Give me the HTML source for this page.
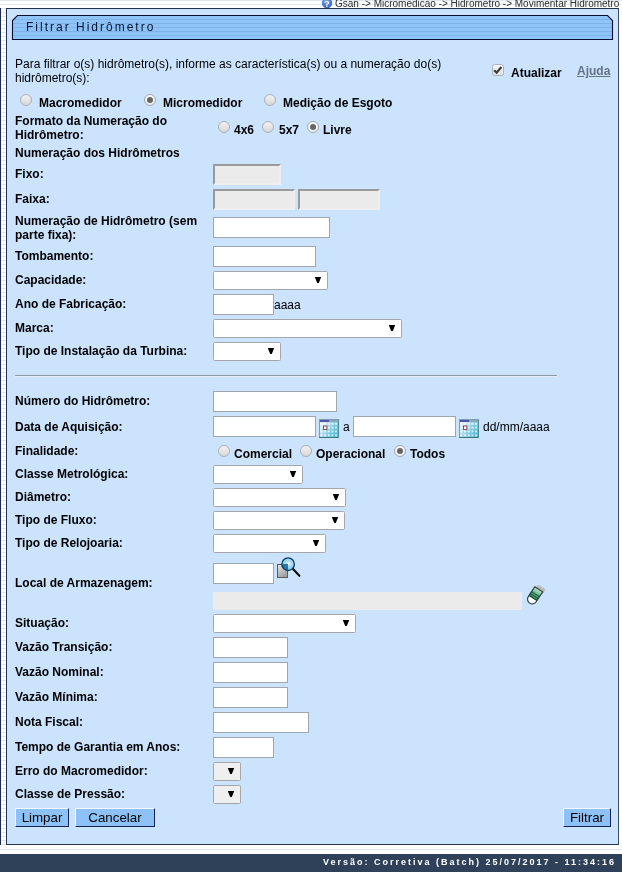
<!DOCTYPE html>
<html><head><meta charset="utf-8"><title>Filtrar Hidrômetro</title>
<style>
html,body{margin:0;padding:0;background:#fff;}
body{width:622px;height:872px;position:relative;overflow:hidden;font-family:"Liberation Sans",sans-serif;font-size:12px;color:#000;}
.a{position:absolute;white-space:nowrap;line-height:14px;}
.b{font-weight:bold;}
.in{position:absolute;box-sizing:border-box;background:#fff;border:1px solid #9fa6ad;}
.dis{position:absolute;box-sizing:border-box;background:#ebebeb;border:2px solid;border-color:#9a9a9a #eeeeee #eeeeee #9a9a9a;}
.sel{position:absolute;box-sizing:border-box;background:#fff;border:1px solid #a3a6aa;border-radius:1.5px;}
.sel:after{content:"";position:absolute;right:5px;top:5px;width:8px;height:6px;background:#000;clip-path:polygon(10% 0,90% 0,60% 100%,40% 100%);}
.rd{position:absolute;box-sizing:border-box;width:12px;height:12px;border-radius:50%;border:1px solid #a9b0b8;background:linear-gradient(180deg,#f2f2f2 0%,#e6e4e4 50%,#d8d8d8 100%);}
.rd.on{background:linear-gradient(180deg,#fbfbfb,#ececec);border-color:#a2a9b1}.rd.on:after{content:"";position:absolute;left:2px;top:2px;width:6px;height:6px;border-radius:50%;background:#666;}
.btn{position:absolute;box-sizing:border-box;background:#8ec1f6;border:1px solid;border-color:#f4f9ff #14225a #14225a #f4f9ff;font-size:13.333px;text-align:center;line-height:17px;height:19px;}
</style></head><body>

<div class="a" style="left:0;top:0;width:622px;height:1px;background:#dfe5ee"></div>
<div class="a" style="left:0;top:4px;width:622px;height:1px;background:#e3e8ef"></div>
<div class="a" style="left:335px;top:-2px;font-size:10px;line-height:12px;color:#2a2a2a">Gsan -&gt; Micromedicao -&gt; Hidrometro -&gt; Movimentar Hidrometro</div>
<svg class="a" style="left:321px;top:-3.4px" width="12" height="12" viewBox="0 0 12 12"><defs><radialGradient id="qg" cx="0.4" cy="0.3" r="0.8"><stop offset="0" stop-color="#7aa4e8"/><stop offset="1" stop-color="#2c5cc0"/></radialGradient></defs><circle cx="6" cy="6" r="5.2" fill="url(#qg)"/><text x="6" y="9.6" font-family="Liberation Sans,sans-serif" font-size="9.5" font-weight="bold" fill="#fff" text-anchor="middle">?</text></svg>
<div class="a" style="left:0;top:8px;width:1px;height:837px;background:#1b2b4b"></div>
<div class="a" style="left:1px;top:8px;width:5px;height:837px;background:repeating-linear-gradient(180deg,#dbe7f5 0,#dbe7f5 1px,#fff 1px,#fff 4px)"></div>
<div class="a" style="left:6px;top:8px;width:613px;height:837px;box-sizing:border-box;background:#cbe3fd;border:1px solid #22324f;border-right-color:#3c4c68"></div>
<svg class="a" style="left:11px;top:14px" width="604" height="27" viewBox="0 0 604 27">
<defs><pattern id="st" width="4" height="4" patternUnits="userSpaceOnUse"><rect width="4" height="4" fill="#8fc4f8"/><rect y="1" width="4" height="1" fill="#7fb2e8"/></pattern></defs>
<path d="M1.5 6.5 L6.5 1.5 L596.5 1.5 L601.5 6.5 L601.5 25.5 L1.5 25.5 Z" fill="url(#st)" stroke="#0a0e30" stroke-width="1.1"/>
</svg>
<div class="a" style="left:26px;top:20px;font-size:12px;letter-spacing:2px;color:#0a1430">Filtrar Hidrômetro</div>
<div class="a " style="left:15px;top:57px;">Para filtrar o(s) hidrômetro(s), informe as característica(s) ou a numeração do(s)</div>
<div class="a " style="left:15px;top:71px;">hidrômetro(s):</div>
<svg class="a" style="left:492px;top:64px" width="12" height="12" viewBox="0 0 12 12"><defs><linearGradient id="cb" x1="0" y1="0" x2="0" y2="1"><stop offset="0" stop-color="#f8f8f8"/><stop offset="1" stop-color="#e2e2e2"/></linearGradient></defs><rect x="0.5" y="0.5" width="11" height="11" rx="2" fill="url(#cb)" stroke="#aab2bd"/><path d="M2.2 6.2 L4.6 8.7 L9.4 3" fill="none" stroke="#3a3a3a" stroke-width="2.2"/></svg>
<div class="a b" style="left:511px;top:66px;">Atualizar</div>
<div class="a b" style="left:577px;top:64px;color:#647384;text-decoration:underline">Ajuda</div>
<div class="rd" style="left:20px;top:94px"></div>
<div class="a b" style="left:39px;top:96px;">Macromedidor</div>
<div class="rd on" style="left:144px;top:94px"></div>
<div class="a b" style="left:163px;top:96px;">Micromedidor</div>
<div class="rd" style="left:264px;top:94px"></div>
<div class="a b" style="left:283px;top:96px;">Medição de Esgoto</div>
<div class="a b" style="left:15px;top:114px;">Formato da Numeração do</div>
<div class="a b" style="left:15px;top:128px;">Hidrômetro:</div>
<div class="rd" style="left:218px;top:121px"></div>
<div class="a b" style="left:234px;top:123px;">4x6</div>
<div class="rd" style="left:262px;top:121px"></div>
<div class="a b" style="left:279px;top:123px;">5x7</div>
<div class="rd on" style="left:307px;top:121px"></div>
<div class="a b" style="left:323px;top:123px;">Livre</div>
<div class="a b" style="left:15px;top:146px;">Numeração dos Hidrômetros</div>
<div class="a b" style="left:15px;top:167px;">Fixo:</div>
<div class="dis" style="left:213px;top:164px;width:68px;height:21px"></div>
<div class="a b" style="left:15px;top:192px;">Faixa:</div>
<div class="dis" style="left:213px;top:189px;width:82px;height:21px"></div>
<div class="dis" style="left:298px;top:189px;width:82px;height:21px"></div>
<div class="a b" style="left:15px;top:214px;">Numeração de Hidrômetro (sem</div>
<div class="a b" style="left:15px;top:228px;">parte fixa):</div>
<div class="in" style="left:213px;top:217px;width:117px;height:21px"></div>
<div class="a b" style="left:15px;top:249px;">Tombamento:</div>
<div class="in" style="left:213px;top:246px;width:103px;height:21px"></div>
<div class="a b" style="left:15px;top:273px;">Capacidade:</div>
<div class="sel" style="left:213px;top:271px;width:115px;height:19px"></div>
<div class="a b" style="left:15px;top:297px;">Ano de Fabricação:</div>
<div class="in" style="left:213px;top:294px;width:61px;height:21px"></div>
<div class="a " style="left:274px;top:298px;">aaaa</div>
<div class="a b" style="left:15px;top:321px;">Marca:</div>
<div class="sel" style="left:213px;top:319px;width:189px;height:19px"></div>
<div class="a b" style="left:15px;top:344px;">Tipo de Instalação da Turbina:</div>
<div class="sel" style="left:213px;top:342px;width:68px;height:19px"></div>
<div class="a" style="left:15px;top:375px;width:542px;height:1px;background:#8e9aa6"></div>
<div class="a" style="left:15px;top:376px;width:542px;height:1px;background:#e6eef8"></div>
<div class="a b" style="left:15px;top:394px;">Número do Hidrômetro:</div>
<div class="in" style="left:213px;top:391px;width:124px;height:21px"></div>
<div class="a b" style="left:15px;top:420px;">Data de Aquisição:</div>
<div class="in" style="left:213px;top:416px;width:103px;height:21px"></div>
<div class="in" style="left:353px;top:416px;width:103px;height:21px"></div>
<div class="a " style="left:343px;top:420px;">a</div>
<div class="a " style="left:483px;top:420px;">dd/mm/aaaa</div>
<div class="a b" style="left:15px;top:444px;">Finalidade:</div>
<div class="rd" style="left:218px;top:445px"></div>
<div class="a b" style="left:234px;top:447px;">Comercial</div>
<div class="rd" style="left:300px;top:445px"></div>
<div class="a b" style="left:316px;top:447px;">Operacional</div>
<div class="rd on" style="left:394px;top:445px"></div>
<div class="a b" style="left:410px;top:447px;">Todos</div>
<div class="a b" style="left:15px;top:467px;">Classe Metrológica:</div>
<div class="sel" style="left:213px;top:465px;width:90px;height:19px"></div>
<div class="a b" style="left:15px;top:490px;">Diâmetro:</div>
<div class="sel" style="left:213px;top:488px;width:133px;height:19px"></div>
<div class="a b" style="left:15px;top:513px;">Tipo de Fluxo:</div>
<div class="sel" style="left:213px;top:511px;width:132px;height:19px"></div>
<div class="a b" style="left:15px;top:536px;">Tipo de Relojoaria:</div>
<div class="sel" style="left:213px;top:534px;width:113px;height:19px"></div>
<div class="a b" style="left:15px;top:576px;">Local de Armazenagem:</div>
<div class="in" style="left:213px;top:563px;width:61px;height:21px"></div>
<div class="a" style="left:213px;top:592px;width:309px;height:18px;background:#ebebeb"></div>
<div class="a b" style="left:15px;top:616px;">Situação:</div>
<div class="sel" style="left:213px;top:614px;width:143px;height:19px"></div>
<div class="a b" style="left:15px;top:640px;">Vazão Transição:</div>
<div class="in" style="left:213px;top:637px;width:75px;height:21px"></div>
<div class="a b" style="left:15px;top:665px;">Vazão Nominal:</div>
<div class="in" style="left:213px;top:662px;width:75px;height:21px"></div>
<div class="a b" style="left:15px;top:690px;">Vazão Mínima:</div>
<div class="in" style="left:213px;top:687px;width:75px;height:21px"></div>
<div class="a b" style="left:15px;top:715px;">Nota Fiscal:</div>
<div class="in" style="left:213px;top:712px;width:96px;height:21px"></div>
<div class="a b" style="left:15px;top:740px;">Tempo de Garantia em Anos:</div>
<div class="in" style="left:213px;top:737px;width:61px;height:21px"></div>
<div class="a b" style="left:15px;top:764px;">Erro do Macromedidor:</div>
<div class="sel" style="left:213px;top:762px;width:28px;height:19px;background:#efefef"></div>
<div class="a b" style="left:15px;top:787px;">Classe de Pressão:</div>
<div class="sel" style="left:213px;top:785px;width:28px;height:19px;background:#efefef"></div>
<div class="btn" style="left:15px;top:808px;width:54px">Limpar</div>
<div class="btn" style="left:75px;top:808px;width:80px">Cancelar</div>
<div class="btn" style="left:563px;top:808px;width:48px">Filtrar</div>
<div class="a" style="left:0;top:849px;width:622px;height:1px;background:#e3e8ef"></div>
<div class="a" style="left:0;top:854px;width:622px;height:18px;background:#2f4158"></div>
<div class="a b" style="right:6px;top:857px;font-size:9px;line-height:11px;letter-spacing:2px;color:#fff">Versão: Corretiva (Batch) 25/07/2017 - 11:34:16</div>
<svg class="a" style="left:319px;top:419px" width="20" height="19" viewBox="0 0 20 19">
<defs><linearGradient id="cg1" x1="0" y1="0" x2="1" y2="0.7"><stop offset="0" stop-color="#f4f8fc"/><stop offset="0.3" stop-color="#cfe7f2"/><stop offset="0.62" stop-color="#8ad0e6"/><stop offset="1" stop-color="#52b8d6"/></linearGradient></defs>
<rect x="0" y="0" width="20" height="19" fill="#7f9bb0"/>
<rect x="1" y="1" width="18" height="17" fill="url(#cg1)"/>
<rect x="0" y="18" width="20" height="1" fill="#3c7486"/><rect x="19" y="1" width="1" height="18" fill="#4a8ea2"/>
<rect x="1" y="1" width="9" height="2" fill="#4a58a6"/><rect x="10" y="1" width="9" height="2" fill="#8ba6b6"/>
<rect x="1.5" y="3.9" width="2" height="2" fill="#fff" opacity="0.7"/><rect x="1.5" y="7.7" width="2" height="2" fill="#fff" opacity="0.7"/><rect x="1.5" y="11.5" width="2" height="2" fill="#fff" opacity="0.7"/><rect x="1.5" y="15.3" width="2" height="2" fill="#fff" opacity="0.7"/><rect x="5.1" y="3.9" width="2" height="2" fill="#fff" opacity="0.7"/><rect x="5.1" y="7.7" width="2" height="2" fill="#fff" opacity="0.7"/><rect x="5.1" y="11.5" width="2" height="2" fill="#fff" opacity="0.7"/><rect x="5.1" y="15.3" width="2" height="2" fill="#fff" opacity="0.7"/><rect x="8.8" y="3.9" width="2" height="2" fill="#fff" opacity="0.7"/><rect x="8.8" y="7.7" width="2" height="2" fill="#fff" opacity="0.7"/><rect x="8.8" y="11.5" width="2" height="2" fill="#fff" opacity="0.7"/><rect x="8.8" y="15.3" width="2" height="2" fill="#fff" opacity="0.7"/><rect x="12.5" y="3.9" width="2" height="2" fill="#fff" opacity="0.7"/><rect x="12.5" y="7.7" width="2" height="2" fill="#fff" opacity="0.7"/><rect x="12.5" y="11.5" width="2" height="2" fill="#fff" opacity="0.7"/><rect x="12.5" y="15.3" width="2" height="2" fill="#fff" opacity="0.7"/><rect x="16.1" y="3.9" width="2" height="2" fill="#fff" opacity="0.7"/><rect x="16.1" y="7.7" width="2" height="2" fill="#fff" opacity="0.7"/><rect x="16.1" y="11.5" width="2" height="2" fill="#fff" opacity="0.7"/><rect x="16.1" y="15.3" width="2" height="2" fill="#fff" opacity="0.7"/>
<rect x="4.5" y="7" width="3.4" height="3.4" fill="#fff" stroke="#80384a" stroke-width="0.9"/>
</svg>
<svg class="a" style="left:459px;top:419px" width="20" height="19" viewBox="0 0 20 19">
<defs><linearGradient id="cg2" x1="0" y1="0" x2="1" y2="0.7"><stop offset="0" stop-color="#f4f8fc"/><stop offset="0.3" stop-color="#cfe7f2"/><stop offset="0.62" stop-color="#8ad0e6"/><stop offset="1" stop-color="#52b8d6"/></linearGradient></defs>
<rect x="0" y="0" width="20" height="19" fill="#7f9bb0"/>
<rect x="1" y="1" width="18" height="17" fill="url(#cg2)"/>
<rect x="0" y="18" width="20" height="1" fill="#3c7486"/><rect x="19" y="1" width="1" height="18" fill="#4a8ea2"/>
<rect x="1" y="1" width="9" height="2" fill="#4a58a6"/><rect x="10" y="1" width="9" height="2" fill="#8ba6b6"/>
<rect x="1.5" y="3.9" width="2" height="2" fill="#fff" opacity="0.7"/><rect x="1.5" y="7.7" width="2" height="2" fill="#fff" opacity="0.7"/><rect x="1.5" y="11.5" width="2" height="2" fill="#fff" opacity="0.7"/><rect x="1.5" y="15.3" width="2" height="2" fill="#fff" opacity="0.7"/><rect x="5.1" y="3.9" width="2" height="2" fill="#fff" opacity="0.7"/><rect x="5.1" y="7.7" width="2" height="2" fill="#fff" opacity="0.7"/><rect x="5.1" y="11.5" width="2" height="2" fill="#fff" opacity="0.7"/><rect x="5.1" y="15.3" width="2" height="2" fill="#fff" opacity="0.7"/><rect x="8.8" y="3.9" width="2" height="2" fill="#fff" opacity="0.7"/><rect x="8.8" y="7.7" width="2" height="2" fill="#fff" opacity="0.7"/><rect x="8.8" y="11.5" width="2" height="2" fill="#fff" opacity="0.7"/><rect x="8.8" y="15.3" width="2" height="2" fill="#fff" opacity="0.7"/><rect x="12.5" y="3.9" width="2" height="2" fill="#fff" opacity="0.7"/><rect x="12.5" y="7.7" width="2" height="2" fill="#fff" opacity="0.7"/><rect x="12.5" y="11.5" width="2" height="2" fill="#fff" opacity="0.7"/><rect x="12.5" y="15.3" width="2" height="2" fill="#fff" opacity="0.7"/><rect x="16.1" y="3.9" width="2" height="2" fill="#fff" opacity="0.7"/><rect x="16.1" y="7.7" width="2" height="2" fill="#fff" opacity="0.7"/><rect x="16.1" y="11.5" width="2" height="2" fill="#fff" opacity="0.7"/><rect x="16.1" y="15.3" width="2" height="2" fill="#fff" opacity="0.7"/>
<rect x="4.5" y="7" width="3.4" height="3.4" fill="#fff" stroke="#80384a" stroke-width="0.9"/>
</svg>
<svg class="a" style="left:276px;top:556px" width="26" height="24" viewBox="0 0 26 24">
<defs><linearGradient id="mg" x1="0" y1="0" x2="0.6" y2="1"><stop offset="0" stop-color="#ececec"/><stop offset="1" stop-color="#9c9c9c"/></linearGradient>
<radialGradient id="ml" cx="0.55" cy="0.45" r="0.6"><stop offset="0" stop-color="#ffffff"/><stop offset="0.3" stop-color="#b4def6"/><stop offset="1" stop-color="#74c0ee"/></radialGradient>
<clipPath id="mc"><circle cx="12.1" cy="8.2" r="6.3"/></clipPath></defs>
<rect x="1.5" y="8.5" width="10" height="13" fill="url(#mg)" stroke="#5a5a5a" stroke-width="1"/>
<line x1="16.8" y1="12.8" x2="23.4" y2="19.8" stroke="#0a0a0a" stroke-width="2.1" stroke-linecap="round"/>
<circle cx="12.1" cy="8.2" r="6.3" fill="url(#ml)"/>
<rect x="1" y="8" width="11" height="14" fill="#1d6ca6" opacity="0.9" clip-path="url(#mc)"/>
<circle cx="12.1" cy="8.2" r="6.3" fill="none" stroke="#0c3c5c" stroke-width="1.3"/>
</svg>
<svg class="a" style="left:522px;top:583px" width="26" height="26" viewBox="0 0 26 26">
<defs><linearGradient id="eg" x1="0" y1="0" x2="0" y2="1"><stop offset="0" stop-color="#bfe8cc"/><stop offset="0.55" stop-color="#5cb488"/><stop offset="1" stop-color="#2f8c5c"/></linearGradient></defs>
<g transform="translate(12.2,13.2) rotate(33)">
<rect x="-3.4" y="-12" width="9.5" height="6" rx="2.5" fill="#bcbcbc"/>
<path d="M-4.7 -8.3 L4.7 -8.3 L4.7 3.6 A4.7 4.7 0 0 1 -4.7 3.6 Z" fill="#ffffff"/>
<rect x="-4.7" y="-8.3" width="9.4" height="10.6" fill="url(#eg)"/>
<line x1="-4.7" y1="-2.4" x2="4.7" y2="-2.4" stroke="#1e5a3c" stroke-width="1"/>
<line x1="-4.7" y1="-0.2" x2="4.7" y2="-0.2" stroke="#1e5a3c" stroke-width="1"/>
<line x1="-4.7" y1="2.1" x2="4.7" y2="2.1" stroke="#1a4c34" stroke-width="1.2"/>
<path d="M-4.7 -8.3 L4.7 -8.3 L4.7 3.6 A4.7 4.7 0 0 1 -4.7 3.6 Z" fill="none" stroke="#2a3636" stroke-width="1.1"/>
</g></svg>
</body></html>
